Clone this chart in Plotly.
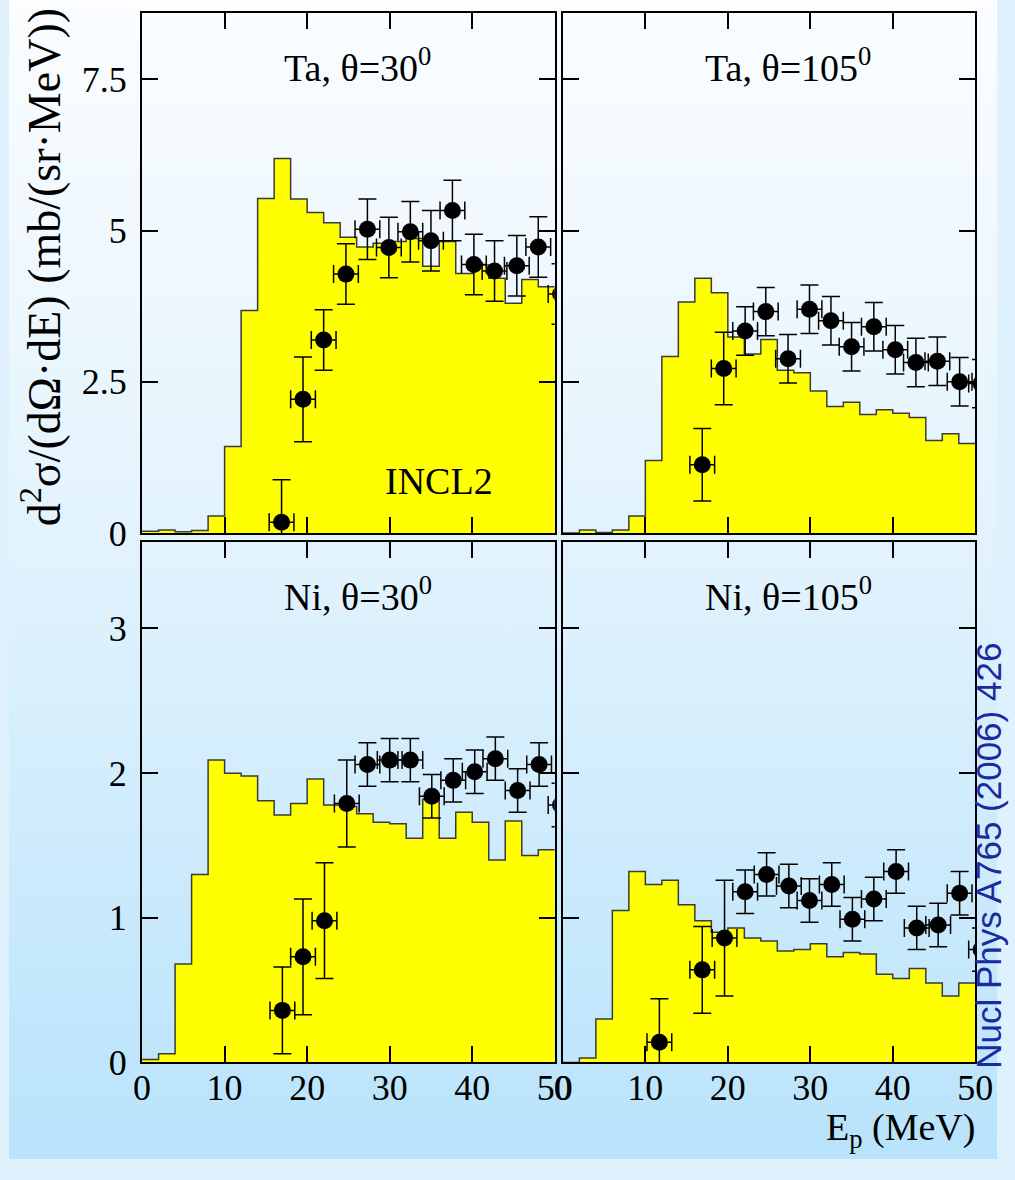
import base64
import plotly.graph_objects as go

# ---------------- data ----------------
bin_edges = [0, 2, 4, 6, 8, 10, 12, 14, 16, 18, 20, 22, 24, 26, 28, 30,
             32, 34, 36, 38, 40, 42, 44, 46, 48, 50]

# INCL2 histograms (2 MeV bins)
ta30_hist = [0.03, 0.05, 0.02, 0.04, 0.28, 1.43, 3.68, 5.53, 6.19, 5.52, 5.30, 5.13, 4.89,
             4.73, 4.79, 4.82, 4.87, 4.41, 4.82, 4.29, 4.43, 4.21, 3.80, 4.19, 4.07]
ta105_hist = [0.00, 0.05, 0.01, 0.05, 0.28, 1.20, 2.92, 3.82, 4.21, 3.97, 3.24, 2.96, 3.20,
              2.69, 2.65, 2.35, 2.09, 2.16, 1.96, 2.04, 1.98, 1.91, 1.53, 1.64, 1.48]
ni30_hist = [0.02, 0.06, 0.68, 1.30, 2.09, 2.00, 1.98, 1.81, 1.71, 1.79, 1.96, 1.78, 1.77,
             1.72, 1.66, 1.65, 1.55, 1.82, 1.55, 1.73, 1.66, 1.40, 1.67, 1.43, 1.47]
ni105_hist = [0.00, 0.03, 0.30, 1.05, 1.32, 1.23, 1.26, 1.09, 0.98, 0.90, 0.93, 0.86, 0.84,
              0.77, 0.78, 0.82, 0.73, 0.76, 0.75, 0.61, 0.58, 0.65, 0.55, 0.46, 0.55]

# experimental points
ta30_E = [16.9, 19.5, 22.0, 24.7, 27.3, 29.9, 32.5, 35.0, 37.6, 40.2, 42.7, 45.4, 48.0, 50.7]
ta30_v = [0.18, 2.21, 3.19, 4.28, 5.02, 4.72, 4.98, 4.83, 5.33, 4.44, 4.33, 4.42, 4.73, 3.95]
ta30_err = [0.70, 0.70, 0.50, 0.50, 0.50, 0.50, 0.50, 0.50, 0.50, 0.50, 0.50, 0.50, 0.50, 0.50]

ta105_E = [16.9, 19.5, 22.1, 24.6, 27.3, 29.9, 32.5, 35.0, 37.7, 40.3, 42.8, 45.4, 48.1, 50.7]
ta105_v = [1.13, 2.72, 3.34, 3.66, 2.88, 3.70, 3.51, 3.08, 3.41, 3.03, 2.82, 2.84, 2.50, 2.47]
ta105_err = [0.60, 0.60, 0.40, 0.40, 0.40, 0.40, 0.40, 0.40, 0.40, 0.40, 0.40, 0.40, 0.40, 0.40]

ni30_E = [17.0, 19.5, 22.1, 24.8, 27.3, 30.0, 32.5, 35.1, 37.7, 40.3, 42.8, 45.5, 48.1, 50.7]
ni30_v = [0.36, 0.73, 0.98, 1.79, 2.06, 2.09, 2.09, 1.84, 1.95, 2.01, 2.10, 1.88, 2.06, 1.78]
ni30_err = [0.30, 0.40, 0.40, 0.30, 0.15, 0.15, 0.15, 0.15, 0.15, 0.15, 0.15, 0.15, 0.15, 0.15]

ni105_E = [11.7, 16.9, 19.6, 22.1, 24.7, 27.4, 29.9, 32.6, 35.1, 37.7, 40.4, 42.9, 45.5, 48.1, 50.7]
ni105_v = [0.14, 0.64, 0.86, 1.18, 1.30, 1.22, 1.12, 1.23, 0.99, 1.13, 1.32, 0.93, 0.95, 1.17, 0.78]
ni105_err = [0.30, 0.30, 0.40, 0.15, 0.15, 0.15, 0.15, 0.15, 0.15, 0.15, 0.15, 0.15, 0.15, 0.15, 0.15]

E_half_width = 1.5  # horizontal error (MeV)

panel_titles = ["Ta, θ=30<sup>0</sup>", "Ta, θ=105<sup>0</sup>",
                "Ni, θ=30<sup>0</sup>", "Ni, θ=105<sup>0</sup>"]
top_yticks = [0, 2.5, 5, 7.5]
top_yticktext = ["0", "2.5", "5", "7.5"]
bot_yticks = [0, 1, 2, 3]
x_ticks = [0, 10, 20, 30, 40, 50]

# ---------------- figure ----------------
W, H = 1015, 1180
SERIF = "Liberation Serif"

fig = go.Figure()

panels = [
    (ta30_hist, ta30_E, ta30_v, ta30_err, "x", "y"),
    (ta105_hist, ta105_E, ta105_v, ta105_err, "x2", "y2"),
    (ni30_hist, ni30_E, ni30_v, ni30_err, "x3", "y3"),
    (ni105_hist, ni105_E, ni105_v, ni105_err, "x4", "y4"),
]

for hist, E, v, err, xa, ya in panels:
    hx = list(bin_edges)
    hy = list(hist) + [hist[-1]]
    fig.add_trace(go.Scatter(
        x=hx, y=hy, mode="lines", line=dict(shape="hv", color="#3a3a3a", width=1.5),
        fill="tozeroy", fillcolor="#ffff00", xaxis=xa, yaxis=ya, showlegend=False,
        hoverinfo="skip"))
    fig.add_trace(go.Scatter(
        x=E, y=v, mode="markers",
        marker=dict(color="black", size=17, symbol="circle"),
        error_y=dict(type="data", array=err, visible=True, color="black",
                     thickness=1.5, width=9),
        error_x=dict(type="constant", value=E_half_width, visible=True, color="black",
                     thickness=1.5, width=9),
        xaxis=xa, yaxis=ya, showlegend=False))

# panel geometry (pixels)
xl = [136.7 / W, 560.7 / W]
xr = [569.0 / W, 992.7 / W]
yt = [1 - 542.7 / H, 1 - 13.0 / H]
yb = [1 - 1081.7 / H, 1 - 551.5 / H]

axis_common = dict(showline=True, linewidth=2, linecolor="black", mirror="ticks",
                   ticks="inside", ticklen=16, tickwidth=2, tickcolor="black",
                   showgrid=False, zeroline=False,
                   tickfont=dict(family=SERIF, size=36, color="black"))

def xaxis(domain, anchor, labels):
    return dict(axis_common, domain=domain, anchor=anchor, range=[0, 50],
                tickvals=x_ticks, showticklabels=labels, ticklabelstandoff=-8)

def yaxis(domain, anchor, rng, vals, text, labels):
    return dict(axis_common, domain=domain, anchor=anchor, range=rng,
                tickvals=vals, ticktext=text, showticklabels=labels,
                ticklabelstandoff=6)

fig.update_layout(
    xaxis=xaxis(xl, "y", False),
    xaxis2=xaxis(xr, "y2", False),
    xaxis3=xaxis(xl, "y3", True),
    xaxis4=xaxis(xr, "y4", True),
    yaxis=yaxis(yt, "x", [0, 8.6], top_yticks, top_yticktext, True),
    yaxis2=yaxis(yt, "x2", [0, 8.6], top_yticks, top_yticktext, False),
    yaxis3=yaxis(yb, "x3", [0, 3.6], bot_yticks, [str(t) for t in bot_yticks], True),
    yaxis4=yaxis(yb, "x4", [0, 3.6], bot_yticks, [str(t) for t in bot_yticks], False),
)

# gradient background
svg = ("<svg xmlns='http://www.w3.org/2000/svg' width='1015' height='1180' "
       "preserveAspectRatio='none'><defs><linearGradient id='g' x1='0' y1='0' x2='0' y2='1'>"
       "<stop offset='0' stop-color='#fbfdff'/><stop offset='0.5' stop-color='#e0f2fd'/>"
       "<stop offset='1' stop-color='#b8e3fb'/></linearGradient></defs>"
       "<rect width='1015' height='1180' fill='url(#g)'/></svg>")
src = "data:image/svg+xml;base64," + base64.b64encode(svg.encode()).decode()

fig.update_layout(
    width=W, height=H,
    margin=dict(l=0, r=0, t=0, b=0),
    paper_bgcolor="#dff1fc", plot_bgcolor="rgba(0,0,0,0)",
    images=[dict(source=src, xref="paper", yref="paper", x=0, y=1, sizex=1, sizey=1,
                 sizing="stretch", layer="below", xanchor="left", yanchor="top")],
    showlegend=False,
)

annotations = []
for title, xa, ya in zip(panel_titles, ["x", "x2", "x3", "x4"], ["y", "y2", "y3", "y4"]):
    annotations.append(dict(text=title, xref=f"{xa} domain", yref=f"{ya} domain",
                            x=0.34, y=0.90, xanchor="left", yanchor="middle",
                            showarrow=False, font=dict(family=SERIF, size=38, color="black")))

annotations.append(dict(text="INCL2", xref="x", yref="y", x=36.0, y=0.86,
                        xanchor="center", yanchor="middle", showarrow=False,
                        font=dict(family=SERIF, size=38, color="black")))

annotations.append(dict(text="d<sup>2</sup>σ/(dΩ·dE) (mb/(sr·MeV))", xref="paper", yref="paper",
                        x=33 / W, y=1 - 272 / H, xanchor="center", yanchor="middle",
                        textangle=-90, showarrow=False,
                        font=dict(family=SERIF, size=46, color="black")))

annotations.append(dict(text="E<sub>p</sub> (MeV)", xref="paper", yref="paper",
                        x=994 / W, y=1 - 1150 / H, xanchor="right", yanchor="middle",
                        showarrow=False, font=dict(family=SERIF, size=38, color="black")))

annotations.append(dict(text="Nucl Phys A765 (2006) 426", xref="paper", yref="paper",
                        x=1006 / W, y=1 - 871 / H, xanchor="center", yanchor="middle",
                        textangle=-90, showarrow=False, borderpad=0,
                        font=dict(family="Liberation Sans", size=35, color="#1a2aa0")))

fig.update_layout(annotations=annotations)

fig.write_html("out.html")
